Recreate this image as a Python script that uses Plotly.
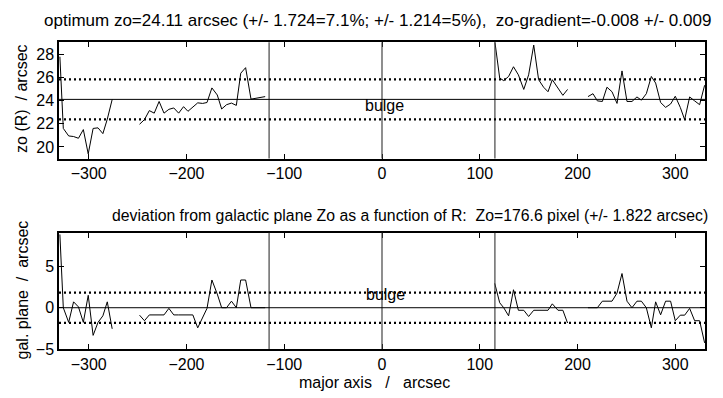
import plotly.graph_objects as go

# ---------------- data ----------------
x_left = [-329.5, -326, -320.5, -315.5, -310.5, -305.5, -300.5, -295.5, -290.5, -285.5, -281, -276]
zo_left = [27.8, 21.6, 20.95, 20.9, 20.75, 21.5, 19.4, 21.6, 21.65, 21.15, 22.4, 24.1]
dev_left = [8.85, 0, -1.77, 0.71, 0.1, -1.77, 1.5, -3.34, -1.77, -0.98, 0.71, -2.55]

x_mid = [-248, -243, -238, -233, -228, -223, -218, -213, -208, -203, -198.5, -193.5, -188.5,
         -183.5, -179, -174, -168.5, -164, -159, -154, -149, -144.5, -139.5, -134, -127, -119.5]
zo_mid = [21.96, 22.36, 23.14, 22.92, 23.93, 22.92, 23.25, 23.37, 22.92, 23.48, 23.08, 23.48, 23.81,
          23.76, 23.84, 25.1, 24.49, 23.28, 23.65, 23.79, 23.59, 26.37, 26.85, 24.13, 24.21, 24.35]
dev_mid = [-0.9, -1.57, -0.87, -0.87, -0.87, -0.87, -0.08, -0.87, -0.87, -0.87, -0.87, -0.87, -2.43,
           -1.18, -0.08, 3.35, 1.65, 0, 0, 0.79, 0, 3.35, 3.35, 0, 0, 0]

x_r1 = [115.3, 120.4, 124.5, 129.5, 134.5, 139.5, 145, 150, 155.2, 160.2, 165.3, 169.8, 174.2, 180, 185, 189.8]
zo_r1 = [29.2, 25.95, 25.73, 26.09, 26.93, 26.23, 24.97, 26.23, 28.8, 25.81, 25.16, 24.77, 25.81, 25.1, 24.46, 24.97]
dev_r1 = [2.95, 0.6, 0.0, -0.98, 2.17, -0.31, -0.31, -1.06, -0.31, -0.31, -0.31, -0.31, 0.47, -0.31, -0.31, -1.85]

x_r2 = [210.7, 215.8, 220.3, 225.4, 230.1, 235.3, 240.4, 245.5, 250.6, 255.7, 260.8, 265.3, 270.4,
        275.5, 279.9, 285, 290.1, 295.2, 300, 305.1, 309.6, 314.7, 319.8, 324.9, 330]
zo_r2 = [24.35, 24.6, 23.98, 23.93, 25.16, 24.77, 23.76, 26.57, 23.93, 23.93, 24.32, 24.04, 24.6,
         26.09, 25.52, 23.84, 23.42, 23.71, 24.38, 23.42, 22.36, 24.32, 23.98, 23.65, 25.33]
dev_r2 = [0, 0, 0, 0.79, 0.79, 0.79, 1.77, 4.13, 0.79, 0, 0.79, 0.79, 0,
          -2.43, 0.71, -0.86, 0.79, 0.79, -1.57, -0.9, -0.9, -0.08, -1.57, -1.57, -4.25]

zo_opt = 24.11
zo_err = 1.724
dev_err = 1.822
bulge_edges = [-115.5, 0, 115.5]

x_ticks = [-300, -200, -100, 0, 100, 200, 300]
y1_ticks = [20, 22, 24, 26, 28]
y2_ticks = [-5, 0, 5]

title_top = "optimum zo=24.11 arcsec (+/- 1.724=7.1%; +/- 1.214=5%),  zo-gradient=-0.008 +/- 0.009"
title_bot = "deviation from galactic plane Zo as a function of R:  Zo=176.6 pixel (+/- 1.822 arcsec)"

# --------------- figure ----------------
W, H = 723, 398
FONT = "Liberation Sans, Arial, sans-serif"

def join(*segs):
    xs, ys = [], []
    for sx, sy in segs:
        if xs:
            xs.append(None); ys.append(None)
        xs += sx; ys += sy
    return xs, ys

xz, yz = join((x_left, zo_left), (x_mid, zo_mid), (x_r1, zo_r1), (x_r2, zo_r2))
xd, yd = join((x_left, dev_left), (x_mid, dev_mid), (x_r1, dev_r1), (x_r2, dev_r2))

fig = go.Figure()
fig.add_trace(go.Scatter(x=xz, y=yz, mode="lines", line=dict(color="black", width=1),
                         connectgaps=False, xaxis="x", yaxis="y", showlegend=False))
fig.add_trace(go.Scatter(x=xd, y=yd, mode="lines", line=dict(color="black", width=1),
                         connectgaps=False, xaxis="x2", yaxis="y2", showlegend=False))

def px_x(a, b):
    return [a / W, b / W]

def px_y(top, bottom):
    return [1 - bottom / H, 1 - top / H]

axis_common = dict(showline=True, linecolor="black", linewidth=1.5, mirror="ticks",
                   ticks="inside", ticklen=5, tickwidth=1, tickcolor="black",
                   showgrid=False, zeroline=False,
                   tickfont=dict(family=FONT, size=16, color="black"))

fig.update_layout(
    width=W, height=H, margin=dict(l=0, r=0, t=0, b=0),
    paper_bgcolor="white", plot_bgcolor="white",
    xaxis=dict(domain=px_x(51, 697), range=[-330.4, 330.4], tickvals=x_ticks, anchor="y", **axis_common),
    yaxis=dict(domain=px_y(35, 154), range=[19.0, 29.05], tickvals=y1_ticks, anchor="x", **axis_common),
    xaxis2=dict(domain=px_x(51, 697), range=[-330.4, 330.4], tickvals=x_ticks, anchor="y2", **axis_common),
    yaxis2=dict(domain=px_y(230, 349), range=[-5.0, 9.05], tickvals=y2_ticks, anchor="x2", **axis_common),
)

shapes = []
for xr, yr, c, e in (("x", "y", zo_opt, zo_err), ("x2", "y2", 0.0, dev_err)):
    for xv in bulge_edges:
        shapes.append(dict(type="line", xref=xr, yref=yr + " domain", x0=xv, x1=xv, y0=0, y1=1,
                           line=dict(color="#444444", width=1.2)))
    shapes.append(dict(type="line", xref=xr + " domain", yref=yr, x0=0, x1=1, y0=c, y1=c,
                       line=dict(color="black", width=1)))
    for yv in (c + e, c - e):
        shapes.append(dict(type="line", xref=xr + " domain", yref=yr, x0=0, x1=1, y0=yv, y1=yv,
                           line=dict(color="black", width=2.2, dash="2px,3px")))
fig.update_layout(shapes=shapes)

ann = []
def txt(x, y, s, size=16, angle=0, xanchor="center"):
    ann.append(dict(xref="paper", yref="paper", x=x / W, y=1 - y / H, text=s, showarrow=False,
                    textangle=angle, xanchor=xanchor, yanchor="middle",
                    font=dict(family=FONT, size=size, color="black")))

txt(370, 13, title_top, size=17)
txt(402, 212, title_bot, size=15.8)
txt(14, 93, "zo (R)  / arcsec", size=16, angle=-90)
txt(14, 289, "gal. plane  /  arcsec", size=16, angle=-90)
txt(366, 383, "major axis   /   arcsec", size=16)
ann.append(dict(xref="x", yref="y", x=3, y=23.62, text="bulge", showarrow=False,
                font=dict(family=FONT, size=16, color="black")))
ann.append(dict(xref="x2", yref="y2", x=4, y=1.58, text="bulge", showarrow=False,
                font=dict(family=FONT, size=16, color="black")))
fig.update_layout(annotations=ann)

fig.write_html("out.html")
